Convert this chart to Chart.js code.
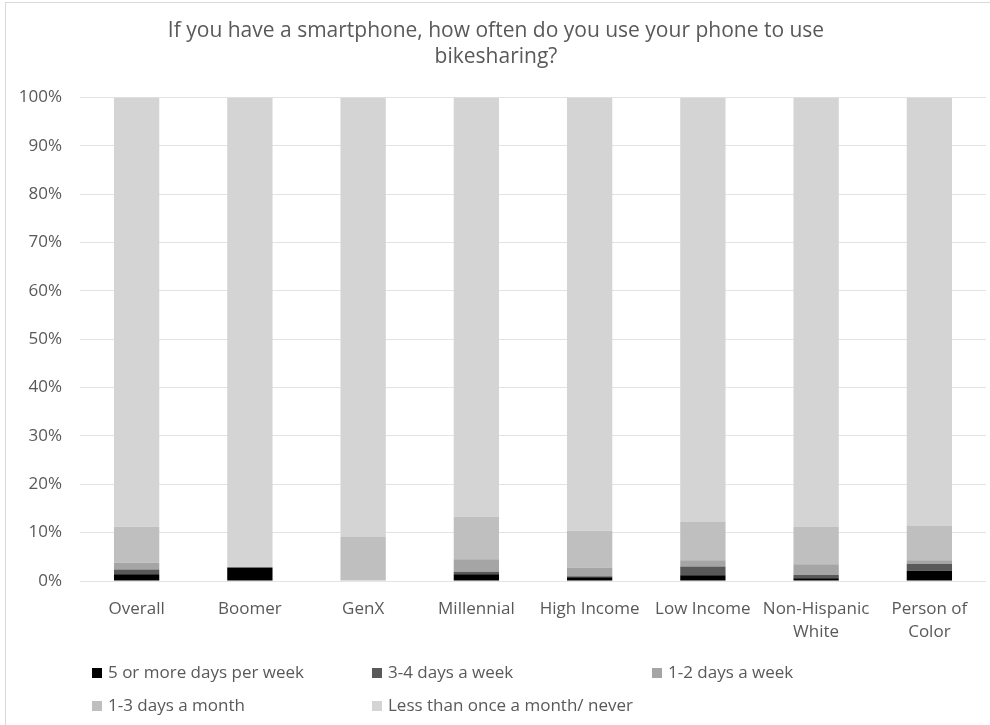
<!DOCTYPE html>
<html>
<head>
<meta charset="utf-8">
<script src="https://cdn.jsdelivr.net/npm/chart.js@4/dist/chart.umd.min.js"></script>
<style>
  html, body { margin: 0; padding: 0; background: #ffffff; overflow: hidden; width: 990px; height: 725px; }
  #frame { position: absolute; left: 5px; top: 2px; width: 1002px; height: 760px; border: 1px solid #d9d9d9; background: #fff; }
  #chart { display: block; }
  .lg { position: absolute; font-family: "Open Sans", sans-serif; font-size: 17px; color: #595959; white-space: nowrap; line-height: 20px; }
  .lg span.box { display: inline-block; width: 10px; height: 10px; margin-right: 6px; vertical-align: 0px; }
</style>
</head>
<body>
<div id="frame"><canvas id="chart" width="1002" height="707"></canvas></div>
<div id="legend"></div>
<script>
const titleLines = ["If you have a smartphone, how often do you use your phone to use", "bikesharing?"];
const categories = [
  "Overall", "Boomer", "GenX", "Millennial", "High Income", "Low Income",
  ["Non-Hispanic", "White"], ["Person of", "Color"]
];
const seriesNames = [
  "5 or more days per week", "3-4 days a week", "1-2 days a week",
  "1-3 days a month", "Less than once a month/ never"
];
const fiveOrMore   = [1.4, 2.8, 0.0, 1.4, 0.8, 1.2, 0.55, 2.1];
const threeToFour  = [1.0, 0.0, 0.0, 0.5, 0.2, 1.8, 0.7, 1.4];
const oneToTwo     = [1.4, 0.0, 0.0, 2.6, 1.8, 1.3, 2.2, 0.8];
const oneToThreeMo = [7.4, 0.0, 9.1, 8.8, 7.6, 7.9, 7.7, 7.2];
const lessThanOnce = [88.8, 97.2, 90.9, 86.7, 89.6, 87.8, 88.85, 88.5];
const seriesColors = ["#000000", "#595959", "#a5a5a5", "#bfbfbf", "#d4d4d4"];
const yTicks = [0, 10, 20, 30, 40, 50, 60, 70, 80, 90, 100];

const seriesValues = [fiveOrMore, threeToFour, oneToTwo, oneToThreeMo, lessThanOnce];
const textColor = "#595959";
const fontFamily = "'Open Sans', sans-serif";

const chart = new Chart(document.getElementById("chart"), {
  type: "bar",
  data: {
    labels: categories,
    datasets: seriesNames.map((name, i) => ({
      label: name,
      data: seriesValues[i],
      backgroundColor: seriesColors[i],
      borderWidth: 0,
      categoryPercentage: 1.0,
      barPercentage: 0.4
    }))
  },
  options: {
    responsive: false,
    animation: false,
    layout: { padding: { left: 0, right: 22, top: 0, bottom: 0 } },
    plugins: {
      legend: { display: false },
      tooltip: { enabled: false },
      title: {
        display: true,
        text: titleLines,
        color: textColor,
        font: { family: fontFamily, size: 21, weight: "normal", lineHeight: 1.25 },
        padding: { top: 15, bottom: 27 }
      }
    },
    scales: {
      x: {
        stacked: true,
        grid: { display: false, drawTicks: false },
        border: { display: false },
        ticks: {
          color: textColor,
          font: { family: fontFamily, size: 17, lineHeight: 1.35 },
          padding: 17,
          maxRotation: 0,
          autoSkip: false
        },
        afterFit: (axis) => { axis.height = 129; }
      },
      y: {
        stacked: true,
        min: 0,
        max: 100,
        afterBuildTicks: (axis) => { axis.ticks = yTicks.map(v => ({ value: v })); },
        grid: { color: "#e3e3e3", lineWidth: 1, drawTicks: false },
        border: { display: false },
        ticks: {
          color: textColor,
          font: { family: fontFamily, size: 17 },
          padding: 18,
          callback: (v) => v + "%"
        },
        afterFit: (axis) => { axis.width = 74; }
      }
    }
  }
});

// Legend built from the chart's datasets
const legendPos = [
  { x: 92, y: 662 }, { x: 372, y: 662 }, { x: 652, y: 662 },
  { x: 92, y: 695 }, { x: 372, y: 695 }
];
const legendEl = document.getElementById("legend");
chart.data.datasets.forEach((ds, i) => {
  const item = document.createElement("div");
  item.className = "lg";
  item.style.left = legendPos[i].x + "px";
  item.style.top = legendPos[i].y + "px";
  const box = document.createElement("span");
  box.className = "box";
  box.style.background = ds.backgroundColor;
  item.appendChild(box);
  item.appendChild(document.createTextNode(ds.label));
  legendEl.appendChild(item);
});
</script>
</body>
</html>
